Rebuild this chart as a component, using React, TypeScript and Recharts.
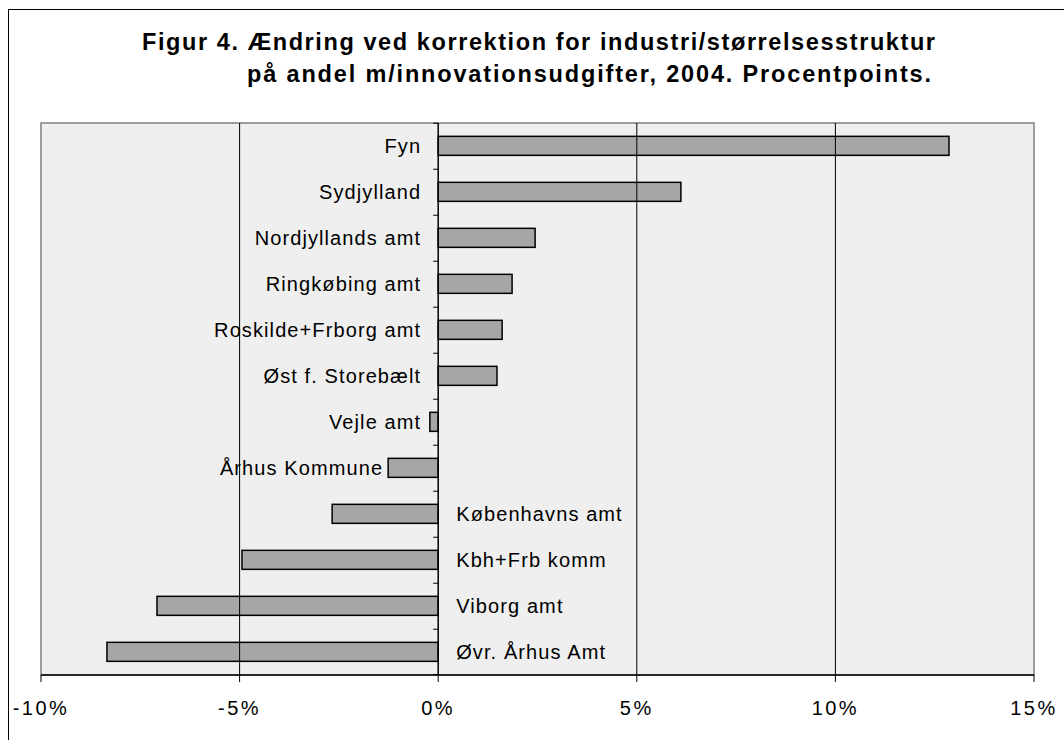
import React from 'react'
import { BarChart, Bar, XAxis, YAxis, ReferenceLine, ReferenceArea, LabelList } from 'recharts'

const regions = [
  'Fyn',
  'Sydjylland',
  'Nordjyllands amt',
  'Ringkøbing amt',
  'Roskilde+Frborg amt',
  'Øst f. Storebælt',
  'Vejle amt',
  'Århus Kommune',
  'Københavns amt',
  'Kbh+Frb komm',
  'Viborg amt',
  'Øvr. Århus Amt',
]

const changes = [12.86, 6.11, 2.44, 1.86, 1.61, 1.48, -0.21, -1.26, -2.67, -4.94, -7.08, -8.34]

const xTicks = [-10, -5, 0, 5, 10, 15]
const gridValues = [-5, 5, 10]

const data = regions.map((name, i) => ({ name, value: changes[i] }))

const FONT = '"Liberation Sans", Arial, sans-serif'
const GAP = 0.29

// bar plus the little category tick on the zero axis
function BarShape(props: any) {
  const { x, y, width, height, value, index } = props
  const left = Math.min(x, x + width)
  const w = Math.abs(width)
  const zero = value >= 0 ? left : left + w
  const half = height / (1 - 2 * GAP) / 2
  const cy = y + height / 2
  return (
    <g>
      <rect x={left} y={y} width={w} height={height} fill="#a6a6a6" stroke="#000" strokeWidth={1.5} />
      <line x1={zero - 5} x2={zero} y1={cy - half} y2={cy - half} stroke="#000" />
      {index === regions.length - 1 && (
        <line x1={zero - 5} x2={zero} y1={cy + half} y2={cy + half} stroke="#000" />
      )}
    </g>
  )
}

function RegionLabel(props: any) {
  const { x, y, width, height, value, index } = props
  const left = Math.min(x, x + width)
  const w = Math.abs(width)
  const zero = value >= 0 ? left : left + w
  const cy = y + height / 2
  const inside = value >= -2
  const tx = inside ? Math.min(zero - 17, left - 5) : zero + 18
  return (
    <text
      x={tx}
      y={cy}
      dy="0.35em"
      textAnchor={inside ? 'end' : 'start'}
      fontFamily={FONT}
      fontSize={20}
      letterSpacing={1.1}
      fill="#000"
    >
      {regions[index]}
    </text>
  )
}

export default function App() {
  return (
    <div
      style={{
        position: 'absolute',
        left: 8,
        top: 9,
        width: 1056,
        height: 731,
        boxSizing: 'border-box',
        borderTop: '1px solid #000',
        borderLeft: '1px solid #000',
        background: '#fff',
      }}
    >
      <svg width={1055} height={100} style={{ position: 'absolute', left: 0, top: 0 }}>
        <text x={133} y={40} fontFamily={FONT} fontWeight="bold" fontSize={23.5} textLength={793} lengthAdjust="spacing">
          Figur 4. Ændring ved korrektion for industri/størrelsesstruktur
        </text>
        <text x={238} y={72} fontFamily={FONT} fontWeight="bold" fontSize={23.5} textLength={684} lengthAdjust="spacing">
          på andel m/innovationsudgifter, 2004. Procentpoints.
        </text>
      </svg>
      <BarChart
        width={1055}
        height={730}
        data={data}
        layout="vertical"
        margin={{ top: 113, right: 30, bottom: 25, left: 32 }}
        barCategoryGap={`${GAP * 100}%`}
      >
        <ReferenceArea x1={-10} x2={15} fill="#efefef" fillOpacity={1} stroke="#808080" strokeWidth={1.5} />
        {gridValues.map(v => (
          <ReferenceLine key={v} x={v} stroke="#000" strokeWidth={1} />
        ))}
        <XAxis
          type="number"
          domain={[-10, 15]}
          ticks={xTicks}
          tickFormatter={(v: number) => `${v}%`}
          axisLine={{ stroke: '#000', strokeWidth: 1.5 }}
          tickLine={{ stroke: '#000' }}
          tickSize={7}
          tickMargin={19}
          height={40}
          tick={{ fill: '#000', fontFamily: FONT, fontSize: 20, letterSpacing: 2.5 }}
          interval={0}
        />
        <YAxis type="category" dataKey="name" hide width={0} />
        <ReferenceLine x={0} stroke="#000" strokeWidth={1.5} />
        <Bar dataKey="value" isAnimationActive={false} shape={<BarShape />}>
          <LabelList dataKey="value" content={<RegionLabel />} />
        </Bar>
      </BarChart>
    </div>
  )
}
